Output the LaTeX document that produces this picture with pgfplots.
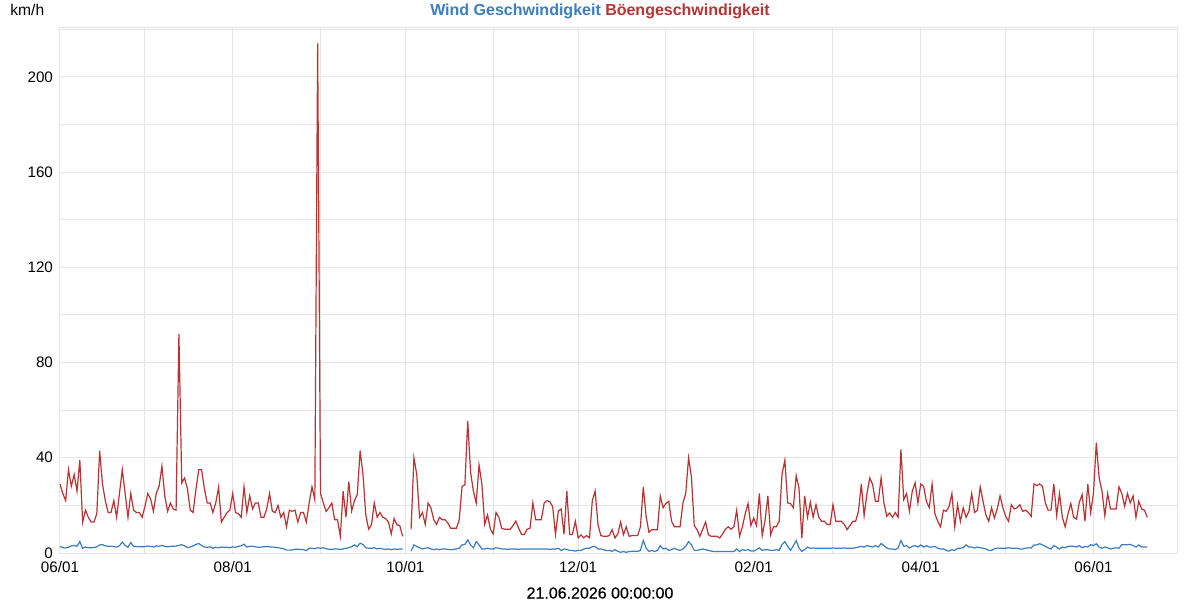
\documentclass[border=0pt]{standalone}
\usepackage{fontspec}
\setmainfont{Liberation Sans}
\newfontfamily\medfont{Liberation Sans}[FakeBold=0.4]
\usepackage{pgfplots}
\usepackage{pgfplotstable}
\pgfplotsset{compat=1.18}
\definecolor{wblue}{HTML}{3B7DC0}
\definecolor{gred}{HTML}{B83333}
\definecolor{gridc}{HTML}{E6E6E6}
\pgfplotstableread{
d r b
0 29 2.8
1 25 2.2
2 22 2.1
3 35 2.4
4 28 3.0
5 33 3.2
6 26 2.8
7 39 4.8
8 13 2.0
9 18 2.5
10 15 2.2
11 13 2.2
12 13 2.3
13 16.5 2.6
14 43 3.4
15 29 3.5
16 22 3.0
17 17 2.8
18 17 2.8
19 22 2.7
20 15 2.5
21 25 3.0
22 35 4.6
23 25 3.2
24 15 2.4
25 25 4.4
26 18 2.8
27 17 2.7
28 17 2.6
29 15 2.6
30 19.5 2.7
31 25 2.9
32 22.7 2.8
33 17.5 2.5
34 25 3.0
35 28 2.8
36 36.5 3.2
37 24 2.8
38 17.5 2.6
39 21 2.8
40 18.5 2.8
41 18 2.9
42 92 3.2
43 29.5 3.5
44 31.5 3.0
45 27 2.3
46 18 2.5
47 17 3.0
48 26.7 3.6
49 35 4.0
50 35 3.2
51 27 2.5
52 21 2.4
53 21 2.6
54 17 2.0
55 21 2.4
56 27.6 2.2
57 13 2.5
58 15 2.4
59 17 2.4
60 18 2.2
61 25 2.6
62 17 2.4
63 16.5 2.8
64 15 3.0
65 27.8 3.7
66 17 2.5
67 24 2.8
68 18.5 2.8
69 21 2.6
70 21 2.4
71 15 2.5
72 15 2.6
73 18.5 2.7
74 25 2.6
75 17.5 2.5
76 17 2.4
77 20 2.2
78 15 2.0
79 17 1.8
80 11 1.2
81 18 1.2
82 17.5 1.3
83 18 1.6
84 13 1.6
85 17 1.5
86 17 1.4
87 13 1.0
88 21 2.0
89 27.8 2.0
90 22.4 1.8
91 214 2.2
92 25 2.0
93 21 2.2
94 17.5 1.8
95 19 1.6
96 21 1.5
97 14 1.7
98 14 1.7
99 7 1.5
100 26 1.7
101 15 2.0
102 30 2.2
103 17.6 2.7
104 22 3.4
105 24.6 2.7
106 43 4.1
107 33 3.6
108 16 2.2
109 10 2.0
110 11.8 2.0
111 21 2.2
112 15 1.7
113 17 2.0
114 15 1.7
115 14.5 1.5
116 13 1.7
117 8 1.4
118 14.5 1.7
119 11.8 1.5
120 11.5 1.7
121 7 1.7
122 nan nan
123 nan nan
124 10 0.8
125 40 3.4
126 33 2.8
127 15 2.2
128 17 1.7
129 12 2.0
130 21 2.2
131 19 1.7
132 14 1.4
133 12 1.7
134 15 1.4
135 14 1.7
136 14 1.7
137 12.5 1.5
138 10.4 1.4
139 10.4 1.5
140 10.4 1.7
141 14 2.0
142 28 3.4
143 28.6 3.6
144 55.5 5.5
145 34 3.4
146 26 2.2
147 21 4.8
148 37 3.4
149 29 1.7
150 12 1.7
151 16 2.0
152 10 1.7
153 8 1.7
154 17 2.2
155 15 2.0
156 10.4 1.7
157 10 1.7
158 10 1.5
159 10 1.7
160 11.5 1.7
161 13.4 1.7
162 10.4 1.5
163 7.8 1.7
164 7.8 1.7
165 10 1.7
166 10.4 1.7
167 21 1.7
168 14 1.7
169 14 1.7
170 14 1.7
171 21 1.7
172 22 1.7
173 21.5 1.5
174 19.5 1.7
175 7.8 1.7
176 17.6 2.0
177 18.5 1.1
178 7.8 1.7
179 26 1.5
180 7.8 1.1
181 7.8 1.1
182 13.4 0.8
183 6.4 1.1
184 7.6 1.1
185 6.4 1.7
186 7.3 2.0
187 6.4 2.0
188 22 2.7
189 26 2.7
190 12 1.7
191 7.3 1.7
192 7 1.4
193 7 1.0
194 7.3 1.1
195 9.8 0.7
196 6.3 1.4
197 8 0.7
198 13 0.3
199 7.7 0.6
200 11 0.3
201 7 0.6
202 7.3 0.7
203 7.3 0.7
204 7.3 0.7
205 11 1.1
206 27.8 5.3
207 15.4 2.1
208 8.7 0.7
209 9.8 1.1
210 9.8 0.6
211 9.8 1.1
212 24 3.1
213 19 1.7
214 20.8 2.0
215 21.7 1.1
216 13.3 1.4
217 11 2.0
218 11 1.4
219 11 1.1
220 21 1.7
221 25 2.8
222 40 4.8
223 32 3.5
224 11.5 1.1
225 9.8 1.1
226 7 1.4
227 10 1.7
228 13 1.4
229 7.7 1.1
230 7 0.8
231 7 0.6
232 7 0.6
233 6.3 0.6
234 8 0.6
235 10 0.6
236 11 0.6
237 10 0.6
238 11 0.6
239 18 1.7
240 7 0.6
241 11 1.4
242 16.5 1.1
243 20.8 1.4
244 11.5 0.8
245 14.7 0.8
246 11.5 1.4
247 25 2.2
248 7.3 1.1
249 13.7 1.4
250 24 1.4
251 7.7 1.1
252 11 1.1
253 11 1.4
254 13.3 1.1
255 33 3.5
256 39 4.8
257 21 2.8
258 20.8 1.1
259 19 3.0
260 32.5 5.2
261 27.3 2.1
262 6.3 0.7
263 24 1.4
264 15 2.5
265 21.3 2.0
266 15 2.1
267 20.3 2.0
268 15 2.0
269 13.3 2.0
270 13.3 2.0
271 12 2.0
272 12 2.0
273 20.3 2.1
274 13.3 2.0
275 13.3 2.0
276 13.3 2.0
277 12 2.1
278 9.8 2.0
279 11.5 2.0
280 13.3 2.0
281 13.3 2.2
282 17.5 2.5
283 29 2.8
284 15.7 2.5
285 25 3.1
286 31.5 2.8
287 28.8 2.5
288 21.7 3.1
289 21.7 2.5
290 31.5 4.0
291 21 3.1
292 15.4 2.1
293 16.8 1.7
294 15 1.7
295 17 1.4
296 15 2.1
297 43.5 5.2
298 22.4 2.8
299 25 3.1
300 17.5 2.1
301 26 2.8
302 29.5 3.1
303 21 2.5
304 29 3.4
305 28 2.5
306 21.7 3.1
307 19 2.5
308 29 2.5
309 16.5 2.8
310 13.3 2.0
311 11 1.7
312 18 1.7
313 17.5 1.1
314 19.6 0.8
315 25 1.4
316 11 1.1
317 20.3 2.0
318 13.3 2.0
319 19 2.2
320 15 3.4
321 17.5 2.5
322 25 2.5
323 17 2.1
324 18 2.5
325 27.8 2.2
326 21.7 2.0
327 16 1.7
328 13.3 1.1
329 19 1.1
330 14.7 1.7
331 18.5 2.1
332 24 2.0
333 19 2.0
334 15.4 2.0
335 13.3 2.2
336 20.3 2.0
337 18.5 2.0
338 19 2.0
339 20.3 1.7
340 17.5 1.7
341 18 2.0
342 17 2.2
343 15.4 2.1
344 29 3.4
345 28.3 3.4
346 29 3.9
347 28 3.4
348 21 2.8
349 18 2.1
350 18 1.7
351 29 3.1
352 15.7 2.5
353 25 1.7
354 15 2.5
355 11 2.2
356 16.5 2.8
357 20.8 2.8
358 15 2.8
359 14.3 2.5
360 21.3 3.1
361 24.5 2.2
362 13.3 2.8
363 29 2.5
364 17 3.5
365 25 3.1
366 46.3 3.9
367 31.5 2.5
368 26 2.0
369 15.7 2.5
370 25 2.2
371 18.5 1.7
372 18.5 2.0
373 18.5 2.2
374 27.8 2.0
375 25 3.5
376 19.6 3.5
377 25 3.5
378 21 3.6
379 24 3.1
380 15 2.5
381 21.7 3.4
382 18.5 2.5
383 18 2.5
384 15 2.5
}\data
\begin{document}
\begin{tikzpicture}[x=1pt,y=1pt]
\path[use as bounding box] (-30,-23.5) rectangle (570,276.5);
\begin{axis}[
  at={(0,0)}, anchor=south west,
  scale only axis, width=558.5pt, height=262.5pt,
  xmin=0, xmax=394.5, ymin=0, ymax=220.5,
  axis line style={gridc, line width=0.5pt},
  xtick={0,61,122,183,245,304,365},
  xticklabels={06/01,08/01,10/01,12/01,02/01,04/01,06/01},
  minor xtick={30,92,153,214,273,334},
  ytick={0,40,...,200},
  minor ytick={20,60,...,220},
  grid=both,
  major grid style={gridc, line width=0.5pt},
  minor grid style={gridc, line width=0.5pt},
  major tick length=0pt, minor tick length=0pt,
  tick label style={font=\fontsize{7.6}{8.5}\selectfont, text=black},
  /pgf/number format/assume math mode=true,
  xticklabel style={yshift=-0.5pt},
  unbounded coords=jump,
  clip=false,
]
\addplot[gred, line width=0.6pt] table[x=d, y=r] {\data};
\addplot[wblue, line width=0.6pt] table[x=d, y=b] {\data};
\node[anchor=center, font=\bfseries\fontsize{8}{9}\selectfont] at (rel axis cs:0.5,1) [xshift=-9.25pt, yshift=8.5pt] {\textcolor{wblue}{Wind Geschwindigkeit} \textcolor{gred}{Böengeschwindigkeit}};
\node[anchor=west, inner sep=0pt, font=\fontsize{7.8}{8.5}\selectfont, text=black] at (rel axis cs:0,1) [xshift=-25pt, yshift=9pt] {km/h};
\node[anchor=center, font=\medfont\fontsize{8}{9}\selectfont] at (rel axis cs:0.5,0) [xshift=-9.25pt, yshift=-20pt] {21.06.2026 00:00:00};
\end{axis}
\end{tikzpicture}
\end{document}
